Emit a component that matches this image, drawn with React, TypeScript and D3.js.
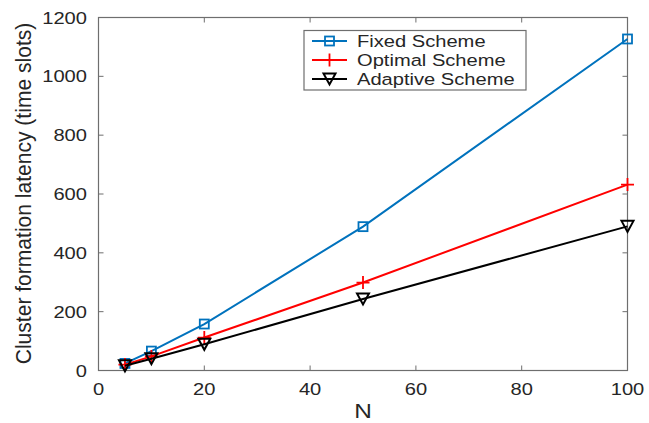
import React from "react";
import * as d3 from "d3";

const nValues = [5, 10, 20, 50, 100];
const fixedScheme = [24, 66, 158, 489, 1127];
const optimalScheme = [20, 48, 112, 299, 632];
const adaptiveScheme = [16, 40, 89, 243, 490];
const xTicks = [0, 20, 40, 60, 80, 100];
const yTicks = [0, 200, 400, 600, 800, 1000, 1200];
const seriesNames = ["Fixed Scheme", "Optimal Scheme", "Adaptive Scheme"];
const seriesColors = ["#0072BD", "#FF0000", "#000000"];
const seriesMarkers = ["square", "plus", "triangleDown"];

const W = 649;
const H = 423;
const left = 98.5;
const right = 627.5;
const top = 17.5;
const bottom = 370.5;
const SX = 1.22;
const FONT = "'Liberation Sans', Arial, Helvetica, sans-serif";

function Marker({ kind, x, y, color }: { kind: string; x: number; y: number; color: string }) {
  if (kind === "square") {
    const s = 9;
    return <rect x={x - s / 2} y={y - s / 2} width={s} height={s} fill="none" stroke={color} strokeWidth={1.8} />;
  }
  if (kind === "plus") {
    const s = 6.5;
    return (
      <path d={`M${x - s},${y}H${x + s}M${x},${y - s}V${y + s}`} stroke={color} strokeWidth={1.8} fill="none" />
    );
  }
  const w = 6;
  const h = 5.5;
  return (
    <path d={`M${x - w},${y - h}L${x + w},${y - h}L${x},${y + h}Z`} fill="none" stroke={color} strokeWidth={2} strokeLinejoin="miter" />
  );
}

export default function App() {
  const x = d3.scaleLinear().domain([0, 100]).range([left, right]);
  const y = d3.scaleLinear().domain([0, 1200]).range([bottom, top]);
  const allSeries = [fixedScheme, optimalScheme, adaptiveScheme];
  const line = d3
    .line<[number, number]>()
    .x((d) => x(d[0]))
    .y((d) => y(d[1]));
  const tl = 5;
  const axisColor = "#6e6e6e";
  const textColor = "#262626";

  const legX = 304;
  const legY = 30.5;
  const legW = 222;
  const legH = 59.5;
  const rowYs = [41, 60, 79];

  return (
    <svg
      width={W}
      height={H}
      style={{ position: "absolute", left: 0, top: 0, background: "#fff" }}
      fontFamily={FONT}
    >
      <rect x={0} y={0} width={W} height={H} fill="#fff" />
      <rect x={left} y={top} width={right - left} height={bottom - top} fill="none" stroke={axisColor} strokeWidth={1.2} />
      {xTicks.map((t) => (
        <g key={"xt" + t}>
          <line x1={x(t)} x2={x(t)} y1={bottom} y2={bottom - tl} stroke={axisColor} strokeWidth={1} />
          <line x1={x(t)} x2={x(t)} y1={top} y2={top + tl} stroke={axisColor} strokeWidth={1} />
          <text
            transform={`translate(${x(t)},${bottom + 24}) scale(${SX},1)`}
            textAnchor="middle"
            fontSize={16.5}
            fill={textColor}
          >
            {t}
          </text>
        </g>
      ))}
      {yTicks.map((t) => (
        <g key={"yt" + t}>
          <line x1={left} x2={left + tl} y1={y(t)} y2={y(t)} stroke={axisColor} strokeWidth={1} />
          <line x1={right} x2={right - tl} y1={y(t)} y2={y(t)} stroke={axisColor} strokeWidth={1} />
          <text
            transform={`translate(${left - 11.5},${y(t) + 6}) scale(${SX},1)`}
            textAnchor="end"
            fontSize={16.5}
            fill={textColor}
          >
            {t}
          </text>
        </g>
      ))}
      <text
        transform={`translate(${(left + right) / 2},${418}) scale(${SX},1)`}
        textAnchor="middle"
        fontSize={20}
        fill={textColor}
      >
        N
      </text>
      <text
        transform={`translate(${31},${193.5}) rotate(-90) scale(1.17,${SX})`}
        textAnchor="middle"
        fontSize={18}
        fill={textColor}
      >
        Cluster formation latency (time slots)
      </text>
      {allSeries.map((vals, i) => {
        const pts: [number, number][] = nValues.map((n, j) => [n, vals[j]]);
        return (
          <g key={"s" + i}>
            <path d={line(pts) || ""} fill="none" stroke={seriesColors[i]} strokeWidth={2} />
            {pts.map((p, j) => (
              <Marker key={j} kind={seriesMarkers[i]} x={x(p[0])} y={y(p[1])} color={seriesColors[i]} />
            ))}
          </g>
        );
      })}
      <rect x={legX} y={legY} width={legW} height={legH} fill="#fff" stroke={axisColor} strokeWidth={1.2} />
      {seriesNames.map((name, i) => (
        <g key={"lg" + i}>
          <line x1={312} x2={347} y1={rowYs[i]} y2={rowYs[i]} stroke={seriesColors[i]} strokeWidth={2} />
          <Marker kind={seriesMarkers[i]} x={329.5} y={rowYs[i]} color={seriesColors[i]} />
          <text
            transform={`translate(357,${rowYs[i] + 6}) scale(${SX},1)`}
            fontSize={16.5}
            fill={textColor}
          >
            {name}
          </text>
        </g>
      ))}
    </svg>
  );
}
